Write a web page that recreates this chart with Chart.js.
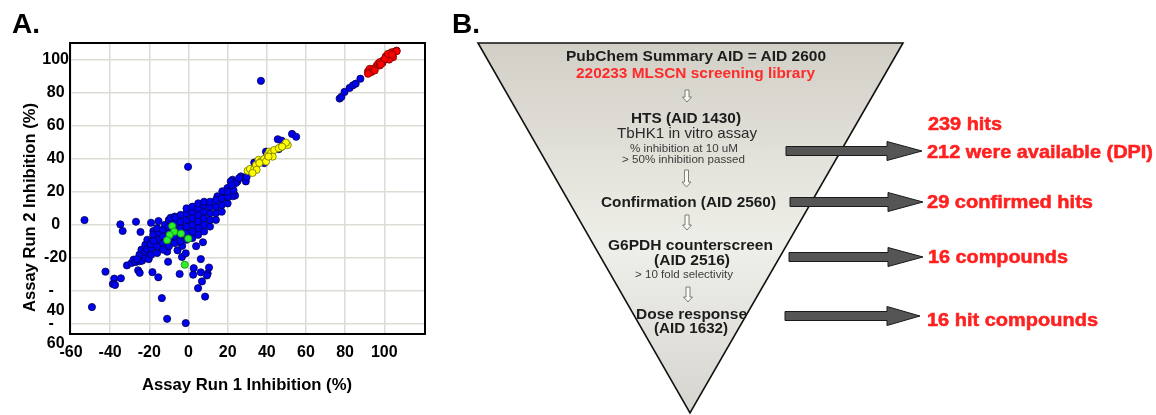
<!DOCTYPE html>
<html>
<head>
<meta charset="utf-8">
<script src="https://cdn.jsdelivr.net/npm/chart.js@4.4.1/dist/chart.umd.min.js"></script>
<style>
  html, body { margin: 0; padding: 0; background: #fff; width: 1156px; height: 415px; overflow: hidden; }
  #wrap { position: relative; width: 1156px; height: 415px; }
  #scatter { position: absolute; left: 0; top: 0; }
  #flow { position: absolute; left: 0; top: 0; pointer-events: none; }
  text { font-family: "Liberation Sans", Arial, sans-serif; }
</style>
</head>
<body>
<div id="wrap">
  <canvas id="scatter" width="440" height="415"></canvas>
  <svg id="flow" width="1156" height="415" xmlns="http://www.w3.org/2000/svg"></svg>
</div>
<script>
// ---- Panel A: % inhibition, run 1 vs run 2 ----
const xTickValues = [-60, -40, -20, 0, 20, 40, 60, 80, 100];
const yTickValues = [100, 80, 60, 40, 20, 0, -20, -40, -60];

const bluePoints = [
  [37.0, 87.1], [-0.2, 35.1],
  [-53.1, 2.9], [-34.8, 0.3], [-33.6, -3.7], [-26.8, 1.9], [-24.5, -4.3], [-19.1, 1.3], [-15.3, 2.3], [-17.9, -3.7],
  [-42.4, -28.3], [-49.3, -49.7], [-37.9, -32.5], [-38.6, -35.7], [-37.5, -36.3], [-34.5, -32.3], [-31.4, -24.5],
  [-25.7, -27.5], [-24.9, -29.0], [-18.4, -28.6], [-15.4, -31.7], [-13.6, -44.3], [-10.9, -56.8], [-1.4, -59.4],
  [-10.4, -22.3], [-4.5, -29.7], [-5.6, -15.4], [-3.3, -19.4], [-1.4, -17.2], [2.7, -26.2], [2.4, -30.1], [6.3, -20.7],
  [6.3, -28.7], [6.9, -34.2], [4.9, -38.3], [10.5, -25.8], [9.8, -29.4], [9.4, -30.6], [8.5, -43.4], [3.9, -12.9], [7.4, -10.5],
  [-3.2, -12.7], [-10.9, -16.2],
  [77.2, 76.4], [78.1, 77.4], [79.7, 80.4], [82.3, 82.8], [84.0, 84.4], [85.4, 85.4], [87.8, 88.4],
  [45.6, 51.8], [47.6, 50.9], [52.9, 55.0], [55.0, 53.3], [46.1, 45.8], [39.6, 44.3], [38.7, 37.4], [33.6, 37.7],
  [26.8, 29.3], [22.5, 27.3], [25.0, 26.3], [28.5, 28.3], [29.3, 26.3], [21.6, 26.3], [24.2, 25.3], [25.9, 28.3],
  [29.7, 29.0], [23.3, 18.3], [23.8, 17.7], [20.8, 22.3], [19.1, 19.3], [17.3, 20.3], [16.5, 16.3], [22.5, 17.3],
  [14.8, 17.3], [19.9, 22.3],
  [-29, -23], [-28, -21], [-27, -22.5],
  [-25, -22], [-25, -18], [-24, -15], [-23.7, -21.7], [-26.3, -20.7],
  [-22, -20], [-22, -16], [-22, -12], [-21, -9], [-20.3, -20.7], [-21.1, -14.7],
  [-19, -18], [-19, -14], [-19, -10], [-18, -6], [-19.4, -11.7],
  [-16, -17], [-16, -13], [-16, -9], [-15, -5], [-16, -2], [-17.7, -9.7],
  [-13, -15], [-13, -11], [-13, -7], [-13, -3], [-12, 0],
  [-10, -13], [-10, -9], [-10, -5], [-10, -1], [-10, 3], [-9.1, 4.3],
  [-7, -11], [-7, -7], [-7, -3], [-7, 1], [-7, 5], [-6.6, 4.3],
  [-4, -10], [-4, -6], [-4, -2], [-4, 2], [-4, 6],
  [-1, -9], [-1, -5], [-1, -1], [-1, 3], [-1, 7], [-1, 10],
  [2, -8], [2, -4], [2, 0], [2, 4], [2, 8], [2, 11],
  [5, -6], [5, -2], [5, 2], [5, 6], [5, 10], [5, 13],
  [8, -4], [8, 0], [8, 4], [8, 8], [8, 12], [8, 14],
  [11, -1], [11, 3], [11, 7], [11, 11], [11, 14],
  [14, 3], [14, 7], [14, 11], [14, 15],
  [17, 8], [17, 12], [17, 16],
  [20, 13], [20, 17], [20, 20],
  [23, 21], [22, 24]
];

const yellowPoints = [
  [30.2, 32.7], [31.4, 33.8], [33.6, 33.9], [34.5, 36.3], [35.8, 39.3], [37.0, 38.3], [38.7, 39.9], [40.4, 42.3],
  [41.3, 44.3], [42.2, 43.4], [43.0, 41.3], [43.8, 45.3], [47.3, 47.0], [49.0, 48.3], [50.7, 48.3], [49.8, 49.7],
  [34.8, 33.3], [32.7, 31.4], [39.6, 38.3], [36.2, 37.4], [40.9, 41.3], [46.1, 46.4], [47.8, 47.3]
];

const redPoints = [
  [91.7, 92.8], [92.6, 94.4], [94.3, 94.4], [93.4, 92.4], [96.0, 96.0], [96.8, 97.4], [97.7, 96.4], [99.4, 99.4],
  [99.1, 98.0], [101.1, 100.4], [100.8, 102.0], [102.8, 102.4], [103.7, 104.4], [105.4, 104.8], [106.3, 105.4],
  [104.5, 101.4], [102.5, 100.0], [95.1, 93.4], [97.7, 98.4], [100.3, 100.4], [101.9, 103.4], [91.7, 91.4],
  [106.3, 105.0], [104.0, 103.0], [98.3, 97.2]
];

const greenPoints = [
  [-8.3, -0.7], [-7.3, -4.1], [-9.6, -6.1], [-3.8, -5.3], [-0.1, -8.3], [-10.9, -9.3], [-1.9, -24.1]
];

// ---- Panel B: screening cascade ----
const stageLines = [
  'PubChem Summary AID = AID 2600', '220233 MLSCN screening library',
  'HTS (AID 1430)', 'TbHK1 in vitro assay', '% inhibition at 10 uM', '> 50% inhibition passed',
  'Confirmation (AID 2560)', 'G6PDH counterscreen', '(AID 2516)', '> 10 fold selectivity',
  'Dose response', '(AID 1632)'
];
const stageResults = ['239 hits', '212 were available (DPI)', '29 confirmed hits', '16 compounds', '16 hit compounds'];

const toXY = p => ({ x: p[0], y: p[1] });
const tickFont = { family: 'Liberation Sans, Arial, sans-serif', size: 16, weight: 'bold' };

const plotFrame = {
  id: 'plotFrame',
  afterDraw(chart) {
    const { ctx, chartArea: a } = chart;
    ctx.save();
    ctx.strokeStyle = '#000';
    ctx.lineWidth = 2;
    ctx.strokeRect(a.left, a.top, a.right - a.left, a.bottom - a.top);
    ctx.restore();
  }
};

function pointSet(label, pts, fill, edge) {
  return {
    label, data: pts.map(toXY),
    backgroundColor: fill, borderColor: edge,
    pointRadius: 3.6, pointBorderWidth: 0.8, pointHoverRadius: 3.6
  };
}

new Chart(document.getElementById('scatter'), {
  type: 'scatter',
  data: {
    datasets: [
      pointSet('Run red', redPoints, '#ff0000', '#7a0000'),
      pointSet('Run yellow', yellowPoints, '#ffff00', '#6e6e00'),
      pointSet('Run green', greenPoints, '#2cf02c', '#128a12'),
      pointSet('Run blue', bluePoints, '#0000f2', '#00004d')
    ]
  },
  options: {
    responsive: false,
    animation: false,
    devicePixelRatio: 1,
    layout: { padding: { top: 43, right: 15, left: 0, bottom: 0 } },
    plugins: { legend: { display: false }, tooltip: { enabled: false } },
    scales: {
      x: {
        type: 'linear', min: -60.5, max: 120.8,
        afterBuildTicks: s => { s.ticks = xTickValues.map(v => ({ value: v })); },
        afterFit: s => { s.height = 81; },
        grid: { color: '#dcdcd5', lineWidth: 1.5, drawTicks: false },
        border: { display: false },
        ticks: { padding: 9, color: '#000', font: tickFont, maxRotation: 0, autoSkip: false }
      },
      y: {
        type: 'linear', min: -66, max: 110,
        afterBuildTicks: s => { s.ticks = yTickValues.map(v => ({ value: v })); },
        afterFit: s => { s.width = 70; },
        grid: { color: '#dcdcd5', lineWidth: 1.5, drawTicks: false },
        border: { display: false },
        ticks: {
          padding: 1, color: '#000', font: tickFont, crossAlign: 'center', autoSkip: false,
          callback: v => (v <= -40 ? ['', '-  ', String(-v)] : String(v))
        }
      }
    }
  },
  plugins: [plotFrame]
});

// ---- SVG drawing for panel letters, axis titles and the cascade ----
const NS = 'http://www.w3.org/2000/svg';
const svg = document.getElementById('flow');
function el(name, attrs, parent) {
  const e = document.createElementNS(NS, name);
  for (const k in attrs) e.setAttribute(k, attrs[k]);
  (parent || svg).appendChild(e);
  return e;
}
function txt(str, x, y, size, weight, fill, width, extra) {
  const t = el('text', Object.assign({
    x, y, 'font-size': size, 'font-weight': weight, fill,
    textLength: width, lengthAdjust: 'spacingAndGlyphs'
  }, extra || {}));
  t.textContent = str;
  return t;
}

// panel letters
txt('A.', 12, 33, 28, 'bold', '#000', 28);
txt('B.', 452, 33, 28, 'bold', '#000', 28);

// axis titles of the scatter plot
txt('Assay Run 1 Inhibition (%)', 142, 390, 16.5, 'bold', '#000', 210);
txt('Assay Run 2 Inhibition (%)', 0, 0, 16.5, 'bold', '#000', 209, { transform: 'translate(35,312) rotate(-90)' });

// funnel body
const defs = el('defs', {});
const grad = el('linearGradient', { id: 'funnelFill', x1: 0, y1: 0, x2: 0, y2: 1 }, defs);
el('stop', { offset: '0', 'stop-color': '#d2cfc6' }, grad);
el('stop', { offset: '0.55', 'stop-color': '#efefe9' }, grad);
el('stop', { offset: '1', 'stop-color': '#d6d4ce' }, grad);
el('polygon', { points: '478,43 903,43 690,413', fill: 'url(#funnelFill)', stroke: '#111', 'stroke-width': 1.6, 'stroke-linejoin': 'miter' });

// funnel text placement: [left x, baseline, width, size, weight, colour]
const stageLayout = [
  [566, 60.5, 260, 15, 'bold', '#1c1c1c'],
  [576, 78, 239, 15, 'bold', '#ff2a2a'],
  [631, 122.5, 110, 15, 'bold', '#1c1c1c'],
  [617, 138.3, 140, 15, 'normal', '#2b2b2b'],
  [630, 151.5, 108, 11.5, 'normal', '#3c3c3c'],
  [622, 162.5, 123, 11.5, 'normal', '#3c3c3c'],
  [601, 207.3, 175, 15, 'bold', '#1c1c1c'],
  [608, 250, 165, 15, 'bold', '#1c1c1c'],
  [654, 264.5, 76, 15, 'bold', '#1c1c1c'],
  [635, 277.5, 98, 11.5, 'normal', '#3c3c3c'],
  [636, 319, 111, 15, 'bold', '#1c1c1c'],
  [654, 333, 74, 15, 'bold', '#1c1c1c']
];
stageLines.forEach((s, i) => {
  const [x, y, w, fs, fw, c] = stageLayout[i];
  txt(s, x, y, fs, fw, c, w);
});

// small hollow down arrows between stages: [centre x, top, bottom]
const stepArrows = [[687, 90, 102], [686.5, 170, 187], [687, 215, 230], [688, 287, 302]];
stepArrows.forEach(([cx, t, b]) => {
  const h = b - 5;
  el('polygon', {
    points: `${cx - 2},${t} ${cx + 2},${t} ${cx + 2},${h} ${cx + 4.5},${h} ${cx},${b} ${cx - 4.5},${h} ${cx - 2},${h}`,
    fill: '#fafaf5', stroke: '#6f6f6f', 'stroke-width': 0.9
  });
});

// block arrows to the results: [start x, head start, tip x, centre y]
const resultArrows = [[786, 887, 922, 151], [790, 888, 923, 202], [789, 888, 923, 257], [785, 887, 920, 316]];
resultArrows.forEach(([x0, hx, tip, cy]) => {
  el('polygon', {
    points: `${x0},${cy - 4.5} ${hx},${cy - 4.5} ${hx},${cy - 9.5} ${tip},${cy} ${hx},${cy + 9.5} ${hx},${cy + 4.5} ${x0},${cy + 4.5}`,
    fill: '#555', stroke: '#1a1a1a', 'stroke-width': 1
  });
});

// result labels: [left x, baseline, width]
const resultLayout = [[928, 130, 74], [927, 158, 226], [927, 208, 166], [928, 262.5, 140], [927, 326, 171]];
stageResults.forEach((s, i) => {
  const [x, y, w] = resultLayout[i];
  txt(s, x, y, 18, 'bold', '#ff2020', w, { stroke: '#ff2020', 'stroke-width': 0.5 });
});
</script>
</body>
</html>
